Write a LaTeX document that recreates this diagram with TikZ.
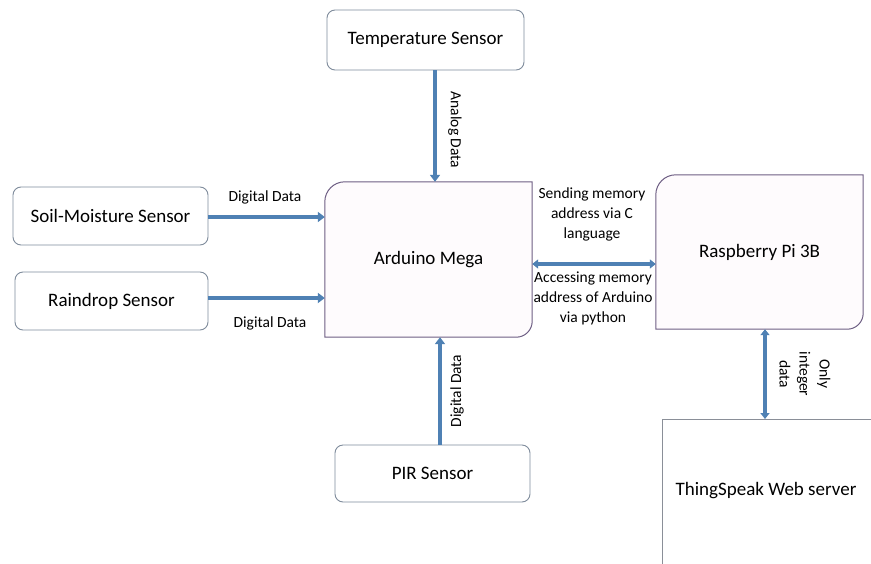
\documentclass[tikz,border=0pt]{standalone}
\usepackage{fontspec}
\setmainfont{Carlito}
\usetikzlibrary{arrows.meta}
\definecolor{arrowblue}{HTML}{4F81B4}
\definecolor{sensorgray}{HTML}{7F8C9C}
\definecolor{mainpurple}{HTML}{6E5F84}
\definecolor{boxgray}{HTML}{8A8F98}
\definecolor{mainfill}{HTML}{FEFBFD}
\tikzset{
  sensorbox/.style={draw=sensorgray, line width=0.9pt, rounded corners=8pt, fill=white,
    font=\fontsize{19}{22}\selectfont, align=center},
  mainnode/.style={draw=none, font=\fontsize{19}{22}\selectfont, align=center},
  mainshape/.style={draw=mainpurple, line width=1pt, fill=mainfill},
  flow/.style={draw=arrowblue, line width=4pt, -{Triangle[length=7pt,width=10pt]}},
  dflow/.style={draw=arrowblue, line width=4pt, {Triangle[length=6pt,width=9pt]}-{Triangle[length=6pt,width=9pt]}},
  lbl/.style={font=\fontsize{15.5}{20}\selectfont, align=center, inner sep=1pt}
}
\begin{document}
\begin{tikzpicture}[x=1pt,y=-1pt]
\clip (0,0) rectangle (871,563);
\fill[white] (0,0) rectangle (871,563);

% sensors
\node[sensorbox, minimum width=197, minimum height=60] (temp) at (425.5,40) {Temperature Sensor};
\node[sensorbox, minimum width=195, minimum height=58] (soil) at (110.5,216) {Soil-Moisture Sensor};
\node[sensorbox, minimum width=193, minimum height=58] (rain) at (111.5,301) {Raindrop Sensor};
\node[sensorbox, minimum width=195, minimum height=57] (pir) at (432.5,473.5) {PIR Sensor};

% Arduino Mega
\node[mainnode, minimum width=207, minimum height=155] (ard) at (428.5,259.5) {};
\path[mainshape]
  ([yshift=-20pt]ard.north west) arc[start angle=180, end angle=90, radius=20pt]
  -- (ard.north east) -- ([yshift=16pt]ard.south east)
  arc[start angle=0, end angle=-90, radius=16pt] -- (ard.south west) -- cycle;
\node[mainnode] at (ard.center) {Arduino Mega};

% Raspberry Pi
\node[mainnode, minimum width=207, minimum height=154] (pi) at (759.5,252) {};
\path[mainshape]
  ([yshift=-20pt]pi.north west) arc[start angle=180, end angle=90, radius=20pt]
  -- (pi.north east) -- ([yshift=16pt]pi.south east)
  arc[start angle=0, end angle=-90, radius=16pt] -- (pi.south west) -- cycle;
\node[mainnode] at (pi.center) {Raspberry Pi 3B};

% ThingSpeak
\node[draw=boxgray, line width=0.9pt, fill=white, anchor=north west,
  minimum width=220, minimum height=160, inner sep=0pt] (ts) at (662,419) {};
\node[mainnode] at (766,491) {ThingSpeak Web server};

% connectors
\draw[flow] (temp.south -| 435,0) -- (ard.north -| 435,0);
\draw[flow] (soil.east |- 0,217) -- (ard.west |- 0,217);
\draw[flow] (rain.east |- 0,298) -- (ard.west |- 0,298);
\draw[flow] (pir.north -| 440,0) -- (ard.south -| 440,0);
\draw[dflow] (ard.east |- 0,264) -- (pi.west |- 0,264);
\draw[dflow] (pi.south -| 765,0) -- (ts.north -| 765,0);

% labels
\node[lbl, rotate=-90] (lanalog) at (455,130) {Analog Data};
\node[lbl] (lsoil) at (265,197) {Digital Data};
\node[lbl] (lrain) at (270,323) {Digital Data};
\node[lbl, rotate=90] (lpir) at (457,391) {Digital Data};
\node[lbl] (lsend) at (592,214) {Sending memory\\address via C\\language};
\node[lbl] (lacc) at (593,298) {Accessing memory\\address of Arduino\\via python};
\node[lbl, rotate=-90] (lint) at (805,374) {Only\\integer\\data};
\end{tikzpicture}
\end{document}
